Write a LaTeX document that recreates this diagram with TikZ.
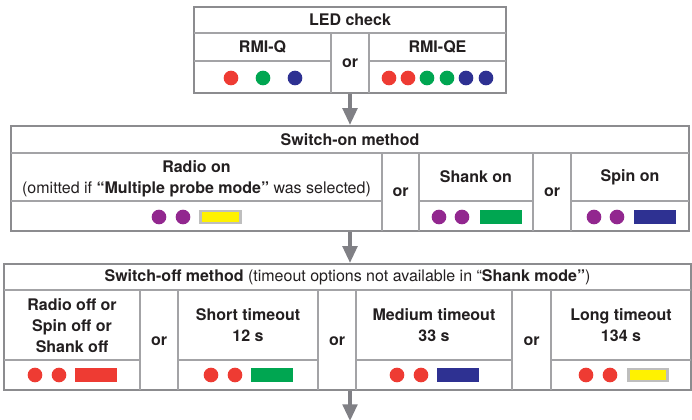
\documentclass[tikz,border=0pt]{standalone}
\usepackage{fontspec}
\setmainfont{TeX Gyre Heros}
\usetikzlibrary{arrows.meta,fit}

\definecolor{framegray}{HTML}{8C8C8F}
\definecolor{cellgray}{HTML}{A3A3A6}
\definecolor{arrowgray}{HTML}{808085}
\definecolor{bargray}{HTML}{BEBEBE}
\definecolor{txt}{HTML}{231F20}
\definecolor{ledred}{HTML}{EE3B33}
\definecolor{ledgreen}{HTML}{00A651}
\definecolor{ledblue}{HTML}{2E3192}
\definecolor{ledpurple}{HTML}{92278F}
\definecolor{ledyellow}{HTML}{FFF200}

\tikzset{
    frame/.style={draw=framegray, line width=1.7pt, inner sep=0pt},
    cell/.style={draw=cellgray, line width=0.8pt},
    lbl/.style={text=txt, align=center, font=\fontsize{12}{15.75}\selectfont\bfseries},
    dot/.style={circle, fill=#1, inner sep=0pt, minimum size=11pt},
    bar/.style={fill=#1, inner sep=0pt, minimum width=31.5pt, minimum height=10.5pt},
    ybar/.style={fill=ledyellow, draw=bargray, line width=2.2pt, inner sep=0pt,
        minimum width=29.5pt, minimum height=9pt},
    flow/.style={draw=arrowgray, line width=2.4pt, -{Triangle[width=11pt,length=12.5pt]}},
}

\begin{document}
\begin{tikzpicture}[x=0.75pt, y=-0.75pt]
    \useasboundingbox (0,0) rectangle (692,420);

    % LED check
    \node[frame, fit={(194,7) (506,93)}] (led) {};
    \draw[cell] (194,33) -- (506,33);
    \draw[cell] (331,33) -- (331,93) (369,33) -- (369,93);
    \draw[cell] (194,61) -- (331,61) (369,61) -- (506,61);
    \node[lbl] (ledhead) at (350,20) {LED check};
    \node[lbl] (rmiq) at (262.5,47) {RMI-Q};
    \node[lbl] (rmiqe) at (437.5,47) {RMI-QE};
    \node[lbl] (ledor) at (350,63) {or};
    \foreach \x/\c in {231/ledred, 263/ledgreen, 295/ledblue}
        \node[dot=\c] (q\x) at (\x,78) {};
    \foreach \x/\c in {389/ledred, 408/ledred, 427/ledgreen, 447/ledgreen, 466/ledblue, 486/ledblue}
        \node[dot=\c] (qe\x) at (\x,78) {};

    % Switch-on method
    \node[frame, fit={(11,126) (689,231)}] (onbox) {};
    \draw[cell] (11,153) -- (689,153);
    \draw[cell] (382,153) -- (382,231) (419,153) -- (419,231)
        (533,153) -- (533,231) (571,153) -- (571,231);
    \draw[cell] (11,201) -- (382,201) (419,201) -- (533,201) (571,201) -- (689,201);
    \node[lbl] (onhead) at (350,140) {Switch-on method};
    \node[lbl] (radioon) at (196.5,179) {Radio on\\
        \mdseries(omitted if \textbf{“Multiple probe mode”} was selected)};
    \node[lbl] (onor1) at (400.5,192) {or};
    \node[lbl] (shankon) at (476,177) {Shank on};
    \node[lbl] (onor2) at (552,192) {or};
    \node[lbl] (spinon) at (630,177) {Spin on};
    \foreach \x in {159,183,439,462,594,617}
        \node[dot=ledpurple] (p\x) at (\x,217) {};
    \node[ybar] (radiobar) at (220.5,217) {};
    \node[bar=ledgreen] (shankbar) at (500.5,217) {};
    \node[bar=ledblue] (spinbar) at (655,217) {};

    % Switch-off method
    \node[frame, fit={(4,264) (691,390)}] (offbox) {};
    \draw[cell] (4,290) -- (691,290);
    \foreach \x in {140,178,318,356,512,551}
        \draw[cell] (\x,290) -- (\x,390);
    \draw[cell] (4,360) -- (140,360) (178,360) -- (318,360)
        (356,360) -- (512,360) (551,360) -- (691,360);
    \node[lbl] (offhead) at (347.5,277) {Switch-off method
        \mdseries(timeout options not available in “\textbf{Shank mode”})};
    \node[lbl] (radiooff) at (72,326) {Radio off or\\Spin off or\\Shank off};
    \node[lbl] (offor1) at (159,341) {or};
    \node[lbl] (short) at (248,325.5) {Short timeout\\12 s};
    \node[lbl] (offor2) at (337,341) {or};
    \node[lbl] (medium) at (434,325.5) {Medium timeout\\33 s};
    \node[lbl] (offor3) at (531.5,341) {or};
    \node[lbl] (long) at (621,325.5) {Long timeout\\134 s};
    \foreach \x in {35,59,211,235,397,421,586,610}
        \node[dot=ledred] (r\x) at (\x,375) {};
    \node[bar=ledred] (offbar) at (96,375) {};
    \node[bar=ledgreen] (shortbar) at (272,375) {};
    \node[bar=ledblue] (mediumbar) at (458,375) {};
    \node[ybar] (longbar) at (648,375) {};

    % flow
    \coordinate (out) at (350,421);
    \draw[flow] (led.south) -- (led.south |- onbox.north);
    \draw[flow] (onbox.south) -- (onbox.south |- offbox.north);
    \draw[flow] (offbox.south -| out) -- (out);
\end{tikzpicture}
\end{document}
